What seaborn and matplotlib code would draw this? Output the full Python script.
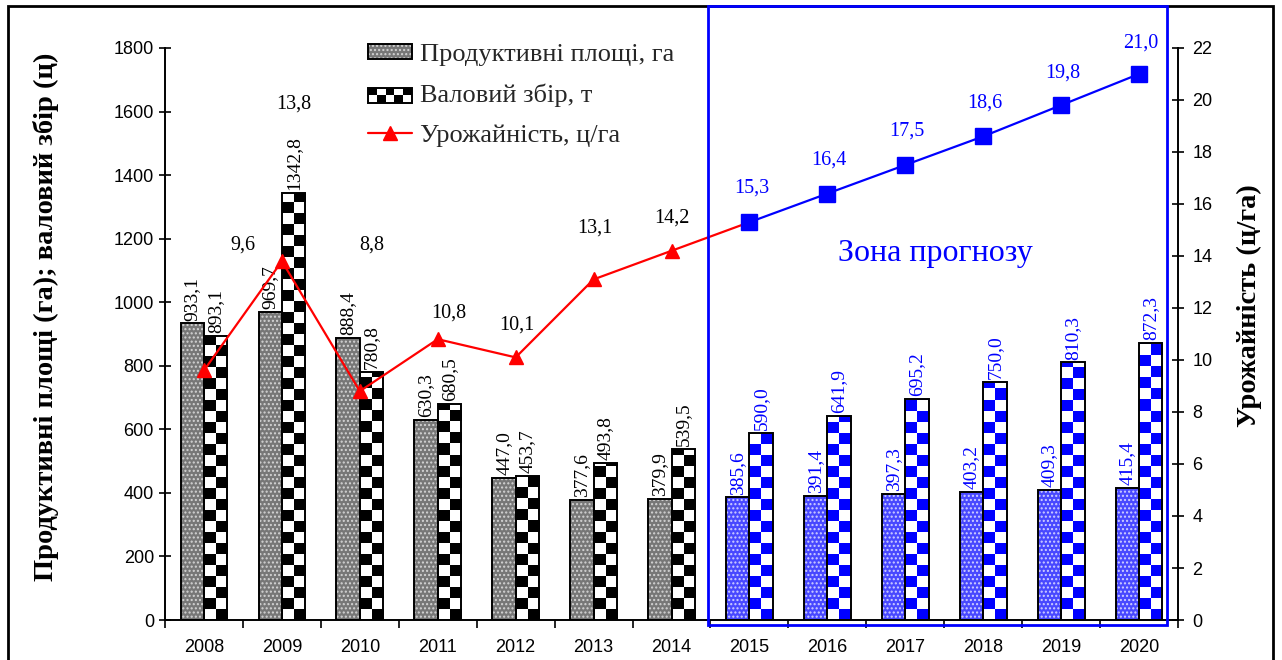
import seaborn as sns
import pandas as pd
import numpy as np
import matplotlib.pyplot as plt
from matplotlib.patches import Rectangle, Patch
from matplotlib.lines import Line2D
from matplotlib.colors import ListedColormap
from matplotlib.legend_handler import HandlerTuple

years = [2008, 2009, 2010, 2011, 2012, 2013, 2014, 2015, 2016, 2017, 2018, 2019, 2020]
area = [933.1, 969.7, 888.4, 630.3, 447.0, 377.6, 379.9, 385.6, 391.4, 397.3, 403.2, 409.3, 415.4]
harvest = [893.1, 1342.8, 780.8, 680.5, 453.7, 493.8, 539.5, 590.0, 641.9, 695.2, 750.0, 810.3, 872.3]
crop_yield = [9.6, 13.8, 8.8, 10.8, 10.1, 13.1, 14.2, 15.3, 16.4, 17.5, 18.6, 19.8, 21.0]
first_forecast = 2015

area_name = "Продуктивні площі, га"
harvest_name = "Валовий збір, т"
yield_name = "Урожайність, ц/га"

# offsets (px) of the yield labels from their points, as placed in the original
yield_label_offsets = [(39, 125), (12, 157), (12, 146), (11, 26), (1, 32), (1, 51), (0, 33),
                       (2, 34), (2, 34), (2, 34), (2, 33), (2, 32), (2, 31)]

sns.set_theme(style="white")
plt.rcParams["font.family"] = ["Liberation Sans", "DejaVu Sans"]
plt.rcParams["hatch.linewidth"] = 1.0
serif = ["Liberation Serif", "DejaVu Serif"]

def fmt(v):
    return f"{v:.1f}".replace(".", ",")

data = pd.DataFrame({"year": years, area_name: area, harvest_name: harvest})
long = data.melt(id_vars="year", var_name="metric", value_name="value")

fig, ax = plt.subplots(figsize=(12.82, 6.6), dpi=100)
fig.subplots_adjust(left=0.1287, right=0.9189, bottom=0.0606, top=0.9273)

sns.barplot(data=long, x="year", y="value", hue="metric", hue_order=[area_name, harvest_name],
            width=0.6, saturation=1, ax=ax, legend=False, errorbar=None)

is_fc = [y >= first_forecast for y in years]
cell_h = 34.6  # checker square height in data units

# area bars: dotted texture
for bar, fc in zip(ax.containers[0], is_fc):
    bar.set_facecolor("#4848ff" if fc else "#777777")
    bar.set_edgecolor("#d0d0ff" if fc else "#d4d4d4")
    bar.set_hatch("....")
    bar.set_linewidth(0)
    ax.add_patch(Rectangle(bar.get_xy(), bar.get_width(), bar.get_height(),
                           fill=False, edgecolor="black", lw=1.4, zorder=3))

# harvest bars: checker texture
for bar, fc in zip(ax.containers[1], is_fc):
    x0, w, h = bar.get_x(), bar.get_width(), bar.get_height()
    bar.set_facecolor("white")
    bar.set_linewidth(0)
    rows = int(np.ceil(h / cell_h))
    grid = np.add.outer(np.arange(rows), np.arange(2)) % 2
    cmap = ListedColormap(["white", "#0000ff" if fc else "black"])
    im = ax.imshow(grid, cmap=cmap, origin="lower", aspect="auto", interpolation="nearest",
                   extent=(x0, x0 + w, 0, rows * cell_h), zorder=2)
    im.set_clip_path(bar)
    ax.add_patch(Rectangle(bar.get_xy(), w, h, fill=False, edgecolor="black", lw=1.4, zorder=3))

# bar value labels
for cont, vals in zip(ax.containers, [area, harvest]):
    for bar, v, fc in zip(cont, vals, is_fc):
        ax.annotate(fmt(v), (bar.get_x() + bar.get_width() / 2, bar.get_height()),
                    xytext=(0, 2), textcoords="offset points", rotation=90,
                    ha="center", va="bottom", fontsize=14, family=serif,
                    color="blue" if fc else "black", zorder=5)

ax.set_xlim(-0.5, len(years) - 0.5)
ax.set_ylim(0, 1800)
ax.set_yticks(range(0, 1801, 200))
ax.set_xlabel("")
ax.set_ylabel("Продуктивні площі (га); валовий збір (ц)", fontsize=20.5, fontweight="bold",
              family=serif, color="black")
ax.yaxis.set_label_coords(-0.105, 0.53)
ax.set_xticks(np.arange(len(years)))
ax.set_xticklabels(years)
ax.set_xticks(np.arange(-0.5, len(years)), minor=True)
ax.tick_params(axis="x", which="major", length=0, labelsize=13, pad=14, colors="black")
ax.tick_params(axis="x", which="minor", length=6, width=1.2, direction="out", bottom=True, color="black")
ax.tick_params(axis="y", length=9, width=1.2, direction="inout", left=True, labelsize=13, colors="black")
for s in ["top", "right"]:
    ax.spines[s].set_visible(False)
for s in ["left", "bottom"]:
    ax.spines[s].set_color("black")
    ax.spines[s].set_linewidth(1.4)

# yield line on secondary axis
ax2 = ax.twinx()
idx = np.arange(len(years))
n_hist = sum(1 for y in years if y < first_forecast)
ax2.plot(idx[:n_hist + 1], crop_yield[:n_hist + 1], color="red", lw=1.6, zorder=4)
ax2.plot(idx[:n_hist], crop_yield[:n_hist], ls="none", marker="^", ms=10, color="red", zorder=5)
ax2.plot(idx[n_hist:], crop_yield[n_hist:], color="blue", lw=1.6, marker="s", ms=11, zorder=5)
for i, (v, (dx, dy)) in enumerate(zip(crop_yield, yield_label_offsets)):
    ax2.annotate(fmt(v), (idx[i], v), xytext=(dx, dy), textcoords="offset pixels",
                 ha="center", va="center", fontsize=14.5, family=serif,
                 color="blue" if is_fc[i] else "black")
ax2.set_ylim(0, 22)
ax2.set_yticks(range(0, 23, 2))
ax2.tick_params(axis="y", length=9, width=1.2, direction="inout", right=True, labelsize=13,
                colors="black", pad=6)
ax2.set_ylabel("Урожайність (ц/га)", fontsize=20.5, fontweight="bold", family=serif,
               rotation=90, color="black")
ax2.yaxis.set_label_coords(1.058, 0.55)
for s in ["top", "left", "bottom"]:
    ax2.spines[s].set_visible(False)
ax2.spines["right"].set_color("black")
ax2.spines["right"].set_linewidth(1.4)
ax2.grid(False)
ax.grid(False)

ax2.text(0.760, 0.64, "Зона прогнозу", transform=ax2.transAxes, color="blue",
         fontsize=23, family=serif, ha="center", va="center")


class CheckerHandler:
    def legend_artist(self, legend, orig_handle, fontsize, handlebox):
        x0, y0 = handlebox.xdescent, handlebox.ydescent
        w, h = handlebox.width, handlebox.height
        tr = handlebox.get_transform()
        n = 5
        for r in range(2):
            for c in range(n):
                col = "black" if (r + c) % 2 == 1 else "white"
                handlebox.add_artist(Rectangle((x0 + c * w / n, y0 + r * h / 2), w / n, h / 2,
                                               facecolor=col, edgecolor="none", transform=tr))
        frame = Rectangle((x0, y0), w, h, fill=False, edgecolor="black", lw=1.4, transform=tr)
        handlebox.add_artist(frame)
        return frame


area_handle = (Patch(facecolor="#777777", edgecolor="#d4d4d4", hatch="....", lw=0),
               Patch(fill=False, edgecolor="black", lw=1.4))
harvest_handle = Patch(facecolor="white")
yield_handle = Line2D([], [], color="red", lw=1.6, marker="^", ms=10)
fig.legend([area_handle, harvest_handle, yield_handle], [area_name, harvest_name, yield_name],
           handler_map={tuple: HandlerTuple(ndivide=1), harvest_handle: CheckerHandler()},
           loc="upper left", bbox_to_anchor=(0.287, 0.934), frameon=False, borderpad=0,
           borderaxespad=0, handlelength=1.67, handleheight=0.53,
           handletextpad=0.3, labelspacing=0.66, prop={"family": serif, "size": 19})

# forecast zone box and outer frame
fig.add_artist(Rectangle((708 / 1282, 1 - 625 / 660), (1167 - 708) / 1282, (625 - 6) / 660,
                         transform=fig.transFigure, fill=False, edgecolor="blue", lw=2, zorder=10))
fig.add_artist(Rectangle((8 / 1282, -0.02), (1273 - 8) / 1282, 1 - 6 / 660 + 0.02,
                         transform=fig.transFigure, fill=False, edgecolor="black", lw=2, zorder=9))

fig.savefig("out.png", dpi=100)
